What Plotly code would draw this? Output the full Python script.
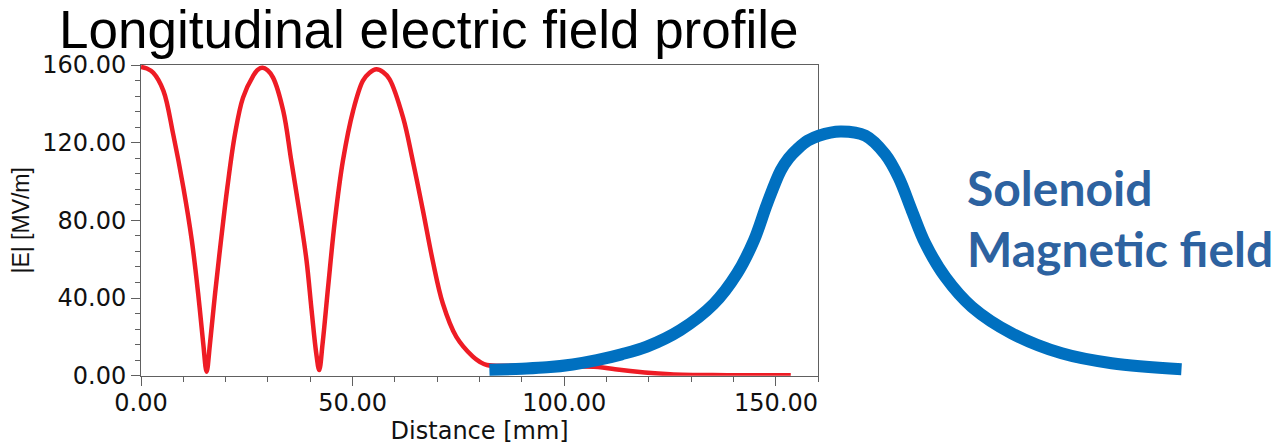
import plotly.graph_objects as go

# ---------------- data ----------------
red_x = [0, 1.4, 2.9, 5.3, 7.6, 10.0, 12.0, 13.5, 14.7, 15.5, 16.3, 17.5, 18.9, 20.4, 22.2, 24.1, 26.5, 27.6,
         28.7, 29.9, 31.2, 33.6, 35.5, 37.5, 39.1, 40.3, 41.4, 42.1, 42.9, 44.2, 45.8, 47.7, 50.1, 52.4,
         54.0, 55.6, 57.2, 58.7, 61.9, 64.2, 66.6, 68.9, 71.3, 74.5, 78.4, 80.0, 81.7, 90, 100, 108, 112,
         119, 125, 135, 153.5]
red_y = [159, 158.2, 156, 146.7, 124.4, 97, 69.7, 42.3, 16.6, 2, 16.6, 42.3, 69.7, 97, 124.4, 143.2, 154.4,
         157.6, 158.6, 157.3, 153.5, 136.4, 110.7, 83.4, 59.4, 33.7, 11.5, 2.9, 16.6, 45.7, 79.9, 110.7,
         136.4, 151.8, 156, 157.8, 156.3, 152.7, 133, 110.7, 85.1, 59.4, 37.2, 20, 9.8, 7.2, 5.5, 5.2, 5.0,
         4.5, 3.3, 1.7, 0.8, 0.3, 0.2]

blue_x = [82.3, 90, 95.9, 102, 107.7, 113.5, 119.5, 127.4, 135.3, 140.8, 144.8, 147.9, 151.1, 153.0,
          155.2, 157.5, 160.1, 165.2, 171.1, 175.8, 179.0, 182.1, 185.3, 190.0, 196.3, 205.7, 217.5,
          229.3, 245.8]
blue_y = [3, 3.6, 4.3, 5.8, 8, 11, 15, 23.5, 37, 52.6, 69.7, 88.5, 105.6, 112,
          117, 121, 123.6, 125.8, 123.6, 114, 102, 85, 68, 50.8, 35.4, 21.8, 11.5,
          6.4, 3.3]

x_tickvals = [0, 50, 100, 150]
y_tickvals = [0, 40, 80, 120, 160]

title_text = "Longitudinal electric field profile"
x_title = "Distance [mm]"
y_title = "|E| [MV/m]"
label_line1 = "Solenoid"
label_line2 = "Magnetic field"

# ---------------- layout geometry (pixels) ----------------
W, H = 1285, 446
X0, XR = 141.0, 818.3      # plot left / right
Y0, YT = 375.7, 65.0       # plot bottom / top
XMAX, YMAX = 160.0, 160.0
X2R = 1200.0               # extended (invisible) axis for the solenoid curve
Y2B = 400.0

axis_col = "#606060"
tick_font = dict(family="DejaVu Sans", size=24, color="#111111")

fig = go.Figure()
fig.add_trace(go.Scatter(x=red_x, y=red_y, mode="lines", xaxis="x", yaxis="y",
                         line=dict(color="#EE1C25", width=4.5, shape="spline", smoothing=1.0),
                         hoverinfo="skip", showlegend=False))
fig.add_trace(go.Scatter(x=blue_x, y=blue_y, mode="lines", xaxis="x2", yaxis="y2",
                         line=dict(color="#0070C0", width=12, shape="spline", smoothing=1.0),
                         hoverinfo="skip", showlegend=False))

fig.update_layout(
    width=W, height=H,
    margin=dict(l=0, r=0, t=0, b=0),
    paper_bgcolor="white", plot_bgcolor="rgba(0,0,0,0)",
    showlegend=False,
    xaxis=dict(domain=[X0 / W, XR / W], range=[0, XMAX], anchor="y",
               tickvals=x_tickvals, tickformat=".2f", ticks="outside", ticklen=9, tickwidth=1,
               tickcolor=axis_col, showline=True, linecolor=axis_col, linewidth=1, mirror=True,
               showgrid=False, zeroline=False, tickfont=tick_font, automargin=False,
               ticklabelstandoff=-4,
               minor=dict(dtick=10, ticks="outside", ticklen=5, tickcolor=axis_col, showgrid=False),
               title=dict(text=x_title, font=dict(family="DejaVu Sans", size=24, color="#111111"),
                          standoff=6)),
    yaxis=dict(domain=[(H - Y0) / H, (H - YT) / H], range=[0, YMAX], anchor="x",
               tickvals=y_tickvals, tickformat=".2f", ticks="outside", ticklen=9, tickwidth=1,
               tickcolor=axis_col, showline=True, linecolor=axis_col, linewidth=1, mirror=True,
               showgrid=False, zeroline=False, tickfont=tick_font, automargin=False,
               minor=dict(dtick=8, ticks="outside", ticklen=5, tickcolor=axis_col, showgrid=False),
               title=dict(text=y_title, font=dict(family="Liberation Sans, Arial", size=23, color="#111111"),
                          standoff=6)),
    xaxis2=dict(domain=[X0 / W, X2R / W], range=[0, XMAX * (X2R - X0) / (XR - X0)],
                anchor="y2", visible=False, fixedrange=True),
    yaxis2=dict(domain=[(H - Y2B) / H, (H - YT) / H],
                range=[-YMAX * (Y2B - Y0) / (Y0 - YT), YMAX],
                anchor="x2", visible=False, fixedrange=True),
    annotations=[
        dict(text=title_text, xref="paper", yref="paper", x=57 / W, y=1, yshift=2,
             xanchor="left", yanchor="top",
             showarrow=False, font=dict(family="Liberation Sans, Arial", size=53, color="#000000")),
        dict(text="<b>%s</b>" % label_line1, xref="paper", yref="paper", x=965 / W, y=1 - 187 / H,
             xanchor="left", yanchor="middle", showarrow=False,
             font=dict(family="Lato", size=48, color="#2D62A0")),
        dict(text="<b>%s</b>" % label_line2, xref="paper", yref="paper", x=965 / W, y=1 - 249 / H,
             xanchor="left", yanchor="middle", showarrow=False,
             font=dict(family="Lato", size=48, color="#2D62A0")),
    ],
)

fig.write_html("out.html")
